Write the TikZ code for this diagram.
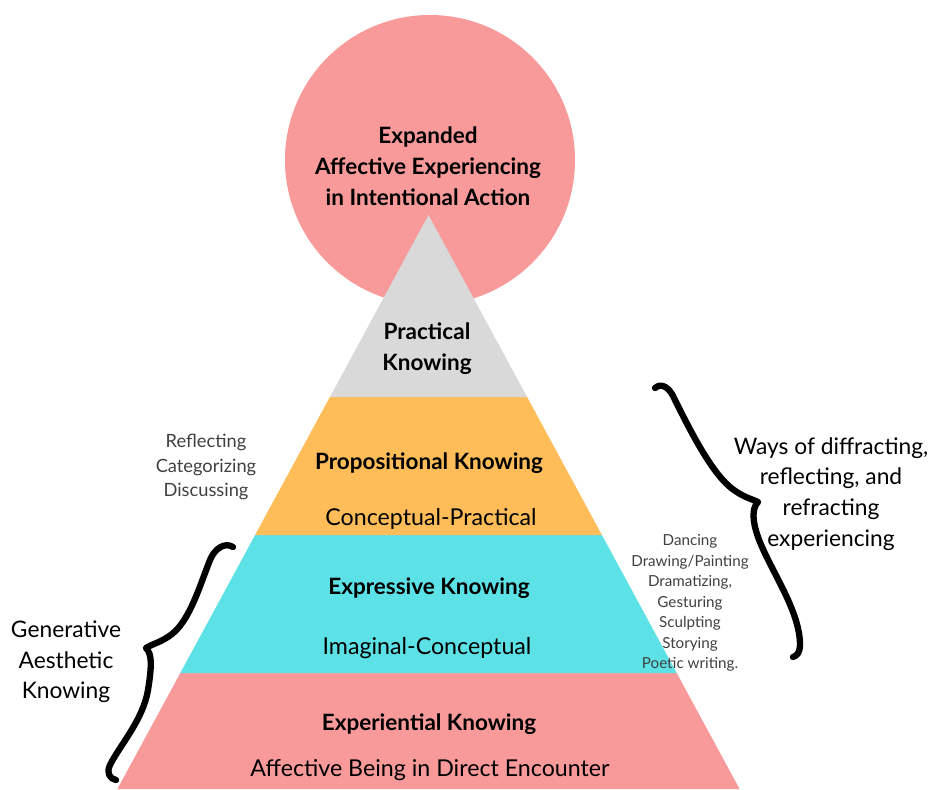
\documentclass[tikz,border=0pt]{standalone}
\usepackage{fontspec}
\setmainfont{Lato}
\usepackage{tikz}

\definecolor{blush}{RGB}{248,153,154}
\definecolor{stone}{RGB}{217,217,217}
\definecolor{amber}{RGB}{255,189,89}
\definecolor{aqua}{RGB}{92,225,230}

\begin{document}
\begin{tikzpicture}[
  x=0.025cm, y=-0.025cm,
  band/.style={draw=none},
  heading/.style={font=\fontsize{16}{22}\selectfont\bfseries, align=center, inner sep=0pt},
  mode/.style={font=\fontsize{16.5}{20}\selectfont, align=center, inner sep=0pt},
  side/.style={font=\fontsize{16.2}{21.8}\selectfont, align=center, inner sep=0pt},
  verbs/.style={font=\fontsize{13}{17.4}\selectfont, align=center, inner sep=0pt, text=black!75},
  acts/.style={font=\fontsize{10.8}{14.6}\selectfont, align=center, inner sep=0pt, text=black!75},
  brace/.style={line width=4.5pt, line cap=round, line join=round}
]
  \useasboundingbox (0,0) rectangle (932,789);

  % Circle at the top
  \fill[blush] (430,160) circle (145);

  % Pyramid bands, bottom up
  \fill[band, blush] (180.3,673) -- (676.7,673) -- (739.6,789) -- (117.4,789) -- cycle;
  \fill[band, aqua] (255.1,535) -- (601.9,535) -- (676.7,673) -- (180.3,673) -- cycle;
  \fill[band, amber] (329.9,397) -- (527.1,397) -- (601.9,535) -- (255.1,535) -- cycle;
  \fill[band, stone] (428.5,215) -- (527.1,397) -- (329.9,397) -- cycle;

  % Texts inside
  \node[heading] (action) at (428,166) {Expanded\\Affective Experiencing\\in Intentional Action};
  \node[heading] (practical) at (427,349) {Practical\\Knowing};
  \node[heading] (propositional) at (429,463) {Propositional Knowing};
  \node[mode] (concprac) at (431,519) {Conceptual-Practical};
  \node[heading] (expressive) at (429,588) {Expressive Knowing};
  \node[mode] (imagconc) at (427,648) {Imaginal-Conceptual};
  \node[heading] (experiential) at (429,724) {Experiential Knowing};
  \node[mode] (encounter) at (430,770) {Affective Being in Direct Encounter};

  % Labels round the pyramid
  \node[verbs] (reflecting) at (206,467) {Reflecting\\Categorizing\\Discussing};
  \node[acts] (arts) at (690,603) {Dancing\\Drawing/Painting\\Dramatizing,\\Gesturing\\Sculpting\\Storying\\Poetic writing.};
  \node[side] (ways) at (831,494) {Ways of diffracting,\\reflecting, and\\refracting\\experiencing};
  \node[side] (generative) at (66,662) {Generative\\Aesthetic\\Knowing};

  % Braces
  \draw[brace] (655,388) .. controls (662,382) and (670,388) .. (675,400)
    .. controls (690,430) and (710,470) .. (730,487)
    .. controls (742,497) and (752,499) .. (758,502)
    .. controls (752,508) and (752,520) .. (758,537)
    .. controls (770,570) and (800,610) .. (800,645)
    .. controls (800,652) and (797,656) .. (793,657);
  \draw[brace] (233,547) .. controls (225,542) and (215,548) .. (210,560)
    .. controls (200,585) and (190,620) .. (172,634)
    .. controls (162,642) and (152,644) .. (146,648)
    .. controls (152,654) and (152,665) .. (148,690)
    .. controls (143,720) and (120,745) .. (110,765)
    .. controls (106,773) and (110,779) .. (116,780);
\end{tikzpicture}
\end{document}
